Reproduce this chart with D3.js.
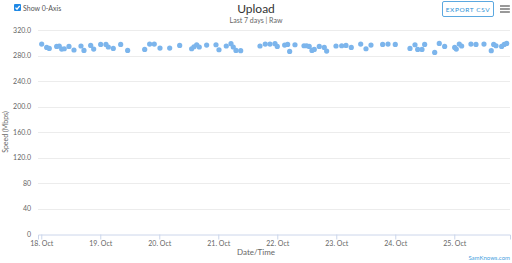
<!DOCTYPE html>
<html lang="en">
<head>
  <meta charset="UTF-8" />
  <title>Upload</title>
  <script src="https://d3js.org/d3.v7.min.js"></script>
  <style>
    html, body { margin: 0; padding: 0; background: #fff; }
    svg { display: block; font-family: Lato, "Open Sans", sans-serif; }
  </style>
</head>
<body>
  <div id="chart"></div>

  <script>
    // measurement times (Oct, local) and upload speeds in Mbps
    const times = [
      "10-18 00:10", "10-18 02:12", "10-18 03:15", "10-18 06:16", "10-18 07:19", "10-18 08:18",
      "10-18 09:21", "10-18 11:16", "10-18 13:18", "10-18 16:09", "10-18 17:22", "10-18 20:06",
      "10-18 21:19", "10-19 00:10", "10-19 02:19", "10-19 03:16", "10-19 05:17", "10-19 08:18",
      "10-19 11:08", "10-19 18:04", "10-19 20:05", "10-19 21:58", "10-20 00:17", "10-20 04:14",
      "10-20 08:18", "10-20 13:10", "10-20 14:07", "10-20 15:13", "10-20 16:16", "10-20 19:16",
      "10-20 23:04", "10-21 00:17", "10-21 03:15", "10-21 05:10", "10-21 06:06", "10-21 07:12",
      "10-21 09:07", "10-21 16:58", "10-21 19:07", "10-21 21:02", "10-21 23:04", "10-22 00:00",
      "10-22 03:00", "10-22 04:13", "10-22 05:02", "10-22 07:12", "10-22 10:52", "10-22 11:57",
      "10-22 13:00", "10-22 14:07", "10-22 15:03", "10-22 17:05", "10-22 19:07", "10-22 20:05",
      "10-22 23:53", "10-23 02:12", "10-23 03:57", "10-23 06:06", "10-23 09:56", "10-23 12:05",
      "10-23 14:07", "10-23 18:52", "10-23 21:02", "10-24 00:00", "10-24 05:59", "10-24 08:01",
      "10-24 09:07", "10-24 10:52", "10-24 11:57", "10-24 16:02", "10-24 17:54", "10-24 20:05",
      "10-25 00:10", "10-25 00:49", "10-25 02:02", "10-25 03:00", "10-25 06:47", "10-25 08:50",
      "10-25 12:05", "10-25 15:03", "10-25 16:02", "10-25 16:58", "10-25 19:16", "10-25 20:20",
      "10-25 21:19"
    ];
    const speeds = [
      298.0, 292.7, 291.1, 294.2, 294.9, 290.1,
      290.6, 294.2, 288.6, 294.9, 287.9, 295.8,
      290.1, 297.4, 297.4, 293.3, 291.1, 297.4,
      287.9, 289.5, 298.0, 298.0, 291.7, 291.7,
      295.8, 290.6, 293.7, 296.9, 293.3, 296.4,
      296.9, 289.0, 294.9, 298.5, 293.3, 287.9,
      287.5, 294.9, 298.0, 298.0, 298.5, 294.2,
      296.4, 297.4, 286.4, 296.9, 295.3, 295.3,
      294.2, 287.9, 289.5, 294.2, 292.7, 287.0,
      294.9, 295.3, 295.8, 292.7, 298.0, 290.6,
      296.4, 297.4, 298.0, 297.4, 291.1, 296.9,
      289.5, 289.5, 297.4, 284.8, 298.9, 294.2,
      292.7, 290.1, 298.0, 294.9, 298.0, 297.4,
      298.0, 287.5, 297.4, 295.3, 294.2, 297.4,
      298.9
    ];
    const yTicks = [0, 40, 80, 120, 160, 200, 240, 280, 320];
    const yTickLabels = ["0", "40", "80", "120.0", "160.0", "200.0", "240.0", "280.0", "320.0"];
    const xTickDays = ["10-18", "10-19", "10-20", "10-21", "10-22", "10-23", "10-24", "10-25"];

    const width = 512, height = 263;
    const margin = { top: 30, right: 2, bottom: 29, left: 38 };

    const parseTime = d3.timeParse("%Y-%m-%d %H:%M");
    const parseDay = d3.timeParse("%Y-%m-%d");
    const data = times.map((t, i) => ({ t: parseTime("2020-" + t), v: speeds[i] }));

    const svg = d3.create("svg")
      .attr("width", width)
      .attr("height", height);

    const x = d3.scaleTime()
      .domain([parseTime("2020-10-17 22:40"), parseTime("2020-10-25 22:40")])
      .range([margin.left, width - margin.right]);

    const y = d3.scaleLinear()
      .domain([0, 320])
      .range([height - margin.bottom, margin.top]);

    // grid lines
    svg.append("g")
      .selectAll("line")
      .data(yTicks.filter(d => d > 0))
      .join("line")
      .attr("x1", margin.left)
      .attr("x2", width - margin.right)
      .attr("y1", d => Math.round(y(d)) + 0.5)
      .attr("y2", d => Math.round(y(d)) + 0.5)
      .attr("stroke", "#ececec");

    // y tick labels
    svg.append("g")
      .selectAll("text")
      .data(yTicks)
      .join("text")
      .attr("x", 31)
      .attr("y", d => y(d) + 2.5)
      .attr("text-anchor", "end")
      .attr("font-size", 7)
      .attr("fill", "#666")
      .text((d, i) => yTickLabels[i]);

    // x axis
    const xAxis = svg.append("g")
      .attr("transform", `translate(0,${Math.round(y(0)) + 0.5})`)
      .call(d3.axisBottom(x)
        .tickValues(xTickDays.map(d => parseDay("2020-" + d)))
        .tickFormat(d3.timeFormat("%-d. %b"))
        .tickSize(5)
        .tickPadding(2));
    xAxis.select(".domain").attr("stroke", "#ccd6eb");
    xAxis.selectAll(".tick line").attr("stroke", "#ccd6eb");
    xAxis.selectAll(".tick text")
      .attr("fill", "#666")
      .attr("font-size", 7)
      .attr("font-family", "Lato, sans-serif");

    // points
    svg.append("g")
      .selectAll("circle")
      .data(data)
      .join("circle")
      .attr("cx", d => x(d.t))
      .attr("cy", d => y(d.v))
      .attr("r", 2.6)
      .attr("fill", "#7cb5ec");

    // axis titles
    svg.append("text")
      .attr("x", 256).attr("y", 255)
      .attr("text-anchor", "middle")
      .attr("font-size", 8)
      .attr("fill", "#666")
      .text("Date/Time");

    svg.append("text")
      .attr("transform", `translate(8,${y(160)}) rotate(-90)`)
      .attr("text-anchor", "middle")
      .attr("font-size", 7)
      .attr("fill", "#666")
      .text("Speed (Mbps)");

    // titles
    svg.append("text")
      .attr("x", 256).attr("y", 13)
      .attr("text-anchor", "middle")
      .attr("font-size", 12)
      .attr("fill", "#333")
      .text("Upload");

    svg.append("text")
      .attr("x", 256).attr("y", 23)
      .attr("text-anchor", "middle")
      .attr("font-size", 7)
      .attr("fill", "#666")
      .text("Last 7 days | Raw");

    // checkbox
    const cb = svg.append("g").attr("transform", "translate(14,4)");
    cb.append("rect")
      .attr("width", 7).attr("height", 7).attr("rx", 1)
      .attr("fill", "#1e88e5");
    cb.append("path")
      .attr("d", "M1.5,3.6 L3,5.2 L5.7,1.8")
      .attr("fill", "none")
      .attr("stroke", "#fff")
      .attr("stroke-width", 1.3);
    svg.append("text")
      .attr("x", 23).attr("y", 10.5)
      .attr("font-size", 7)
      .attr("fill", "#555")
      .text("Show 0-Axis");

    // export button
    svg.append("rect")
      .attr("x", 442.5).attr("y", 1.5)
      .attr("width", 51).attr("height", 15).attr("rx", 1.5)
      .attr("fill", "#fff")
      .attr("stroke", "#5ba8e0");
    svg.append("text")
      .attr("x", 468).attr("y", 11.5)
      .attr("text-anchor", "middle")
      .attr("font-size", 6.5)
      .attr("letter-spacing", 0.6)
      .attr("fill", "#2b8fd6")
      .text("EXPORT CSV");

    // menu icon
    svg.append("g")
      .selectAll("line")
      .data([0, 1, 2])
      .join("line")
      .attr("x1", 500).attr("x2", 510)
      .attr("y1", d => 6 + d * 3).attr("y2", d => 6 + d * 3)
      .attr("stroke", "#555")
      .attr("stroke-width", 1.2);

    // credits
    svg.append("text")
      .attr("x", 510).attr("y", 260)
      .attr("text-anchor", "end")
      .attr("font-size", 6)
      .attr("fill", "#4a9fe0")
      .text("SamKnows.com");

    document.getElementById("chart").appendChild(svg.node());
  </script>
</body>
</html>
